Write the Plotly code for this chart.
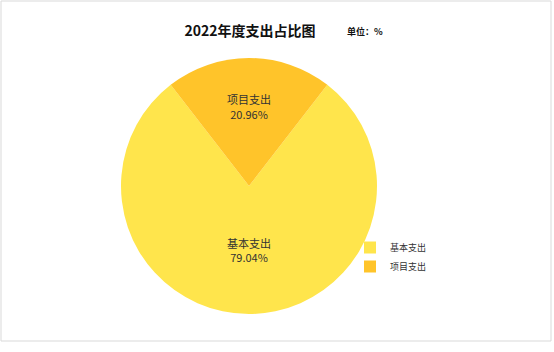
import plotly.graph_objects as go

labels = ["基本支出", "项目支出"]
values = [79.04, 20.96]
colors = ["#FFE54C", "#FFC42A"]

W, H = 554, 352
# the second slice is centred at 12 o'clock
rotation = values[1] * 3.6 / 2

fig = go.Figure(go.Pie(
    labels=labels,
    values=values,
    sort=False,
    direction="clockwise",
    rotation=rotation,
    marker=dict(colors=colors, line=dict(width=0)),
    texttemplate="%{label}<br>%{value:.2f}%",
    textposition="inside",
    insidetextorientation="horizontal",
    textfont=dict(family="Noto Sans CJK SC", size=11, color="#333333"),
    domain=dict(x=[121 / W, 377 / W], y=[1 - 314 / H, 1 - 58 / H]),
    hoverinfo="label+percent",
))

fig.update_layout(
    width=W, height=H,
    margin=dict(l=0, r=0, t=0, b=0),
    paper_bgcolor="white",
    plot_bgcolor="white",
    title=dict(
        text="<b>2022年度支出占比图</b>",
        x=250 / W, xanchor="center",
        y=1 - 31 / H, yanchor="middle", yref="container",
        font=dict(family="Noto Sans CJK SC", size=14, color="#111111"),
    ),
    legend=dict(
        x=350 / W, y=1 - 233 / H, xanchor="left", yanchor="top",
        font=dict(family="Noto Sans CJK SC", size=9, color="#333333"),
        itemwidth=30, tracegroupgap=0,
        bgcolor="rgba(0,0,0,0)",
    ),
    annotations=[dict(
        text="<b>单位：%</b>", x=345 / W, y=1 - 31 / H, xref="paper", yref="paper",
        xanchor="left", yanchor="middle", showarrow=False,
        font=dict(family="Noto Sans CJK SC", size=9, color="#111111"),
    )],
    shapes=[dict(
        type="rect", xref="paper", yref="paper",
        x0=1 / W, x1=551 / W, y0=1 - 341 / H, y1=1 - 1 / H,
        line=dict(color="#D9D9D9", width=1), fillcolor="rgba(0,0,0,0)",
    )],
)

fig.write_html("out.html")
